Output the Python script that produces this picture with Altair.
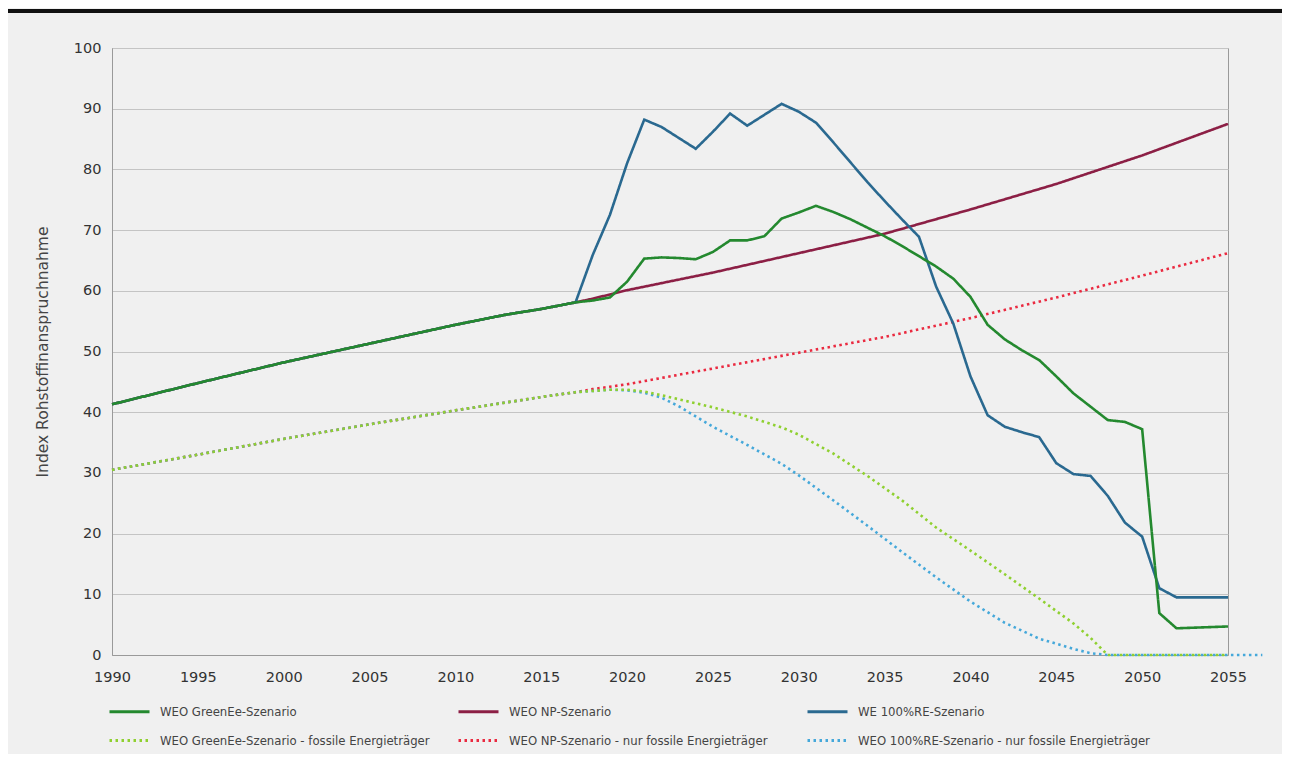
import altair as alt
import pandas as pd

# ---- series names ----
S_GREEN = "WEO GreenEe-Szenario"
S_NP = "WEO NP-Szenario"
S_RE = "WE 100%RE-Szenario"
S_GREEN_F = "WEO GreenEe-Szenario - fossile Energieträger"
S_NP_F = "WEO NP-Szenario - nur fossile Energieträger"
S_RE_F = "WEO 100%RE-Szenario - nur fossile Energieträger"

# ---- shared history (total and fossil) ----
hist_years = [1990, 1995, 2000, 2005, 2010, 2013, 2015, 2017]
hist_total = [41.3, 44.8, 48.2, 51.3, 54.4, 56.1, 57.0, 58.1]
hist_fossil_years = [1990, 1995, 2000, 2005, 2010, 2015, 2017]
hist_fossil = [30.5, 33.0, 35.6, 38.0, 40.3, 42.5, 43.3]

# ---- WEO NP-Szenario (total) ----
np_years = [2018, 2019, 2020, 2025, 2030, 2035, 2040, 2045, 2050, 2055]
np_values = [58.7, 59.4, 60.1, 63.0, 66.2, 69.4, 73.4, 77.6, 82.3, 87.5]

# ---- WEO GreenEe-Szenario (total) ----
green_years = list(range(2018, 2056))
green_values = [58.4, 58.9, 61.5, 65.3, 65.5, 65.4, 65.2, 66.4, 68.3, 68.3,
                69.0, 71.9, 72.9, 74.0, 73.0, 71.8, 70.4, 69.0, 67.4, 65.7,
                64.0, 62.0, 59.0, 54.4, 52.0, 50.2, 48.6, 45.9, 43.1, 40.9,
                38.7, 38.4, 37.2, 6.9, 4.4, 4.5, 4.6, 4.7]

# ---- WE 100%RE-Szenario (total) ----
re_years = list(range(2018, 2056))
re_values = [65.9, 72.5, 81.0, 88.2, 87.0, 85.2, 83.4, 86.2, 89.2, 87.2,
             89.0, 90.8, 89.5, 87.7, 84.5, 81.2, 77.9, 74.8, 71.8, 68.9,
             60.7, 54.6, 45.9, 39.5, 37.6, 36.7, 35.9, 31.6, 29.8, 29.5,
             26.2, 21.8, 19.5, 11.0, 9.5, 9.5, 9.5, 9.5]

# ---- fossil-only series ----
np_f_years = [2018, 2019, 2020, 2025, 2030, 2035, 2040, 2045, 2050, 2055]
np_f_values = [43.8, 44.2, 44.6, 47.2, 49.8, 52.4, 55.5, 58.9, 62.5, 66.2]

green_f_years = [2018, 2019, 2020, 2021, 2022, 2025, 2027, 2029, 2030, 2032,
                 2034, 2036, 2038, 2040, 2042, 2044, 2046, 2047, 2048, 2055]
green_f_values = [43.5, 43.7, 43.7, 43.4, 42.8, 40.8, 39.3, 37.5, 36.3, 33.2,
                  29.5, 25.5, 21.0, 17.2, 13.3, 9.3, 5.2, 2.8, 0.0, 0.0]

re_f_years = [2018, 2019, 2020, 2021, 2022, 2023, 2025, 2027, 2029, 2030,
              2032, 2034, 2036, 2038, 2040, 2042, 2044, 2046, 2047, 2048, 2057]
re_f_values = [43.5, 43.7, 43.6, 43.2, 42.4, 41.0, 37.6, 34.6, 31.5, 29.6,
               25.5, 21.3, 17.0, 12.8, 8.8, 5.3, 2.7, 1.0, 0.3, 0.0, 0.0]

x_ticks = list(range(1990, 2056, 5))
y_ticks = list(range(0, 101, 10))

series_order = [S_GREEN, S_NP, S_RE, S_GREEN_F, S_NP_F, S_RE_F]
series_colors = ["#24892f", "#8c1f45", "#2a6990", "#8fd030", "#ea2a40", "#45a8da"]
series_dash = [[1, 0], [1, 0], [1, 0], [2.5, 3.5], [2.5, 3.5], [2.5, 3.5]]


def rows(name, hy, hv, fy, fv):
    return [{"series": name, "year": y, "value": v}
            for y, v in list(zip(hy, hv)) + list(zip(fy, fv))]


records = []
records += rows(S_NP_F, hist_fossil_years, hist_fossil, np_f_years, np_f_values)
records += rows(S_RE_F, hist_fossil_years, hist_fossil, re_f_years, re_f_values)
records += rows(S_GREEN_F, hist_fossil_years, hist_fossil, green_f_years, green_f_values)
records += rows(S_NP, hist_years, hist_total, np_years, np_values)
records += rows(S_RE, hist_years, hist_total, re_years, re_values)
records += rows(S_GREEN, hist_years, hist_total, green_years, green_values)
df = pd.DataFrame(records)

FONT_AX = "DejaVu Sans"
FONT_LEG = "DejaVu Sans Condensed, Lato, sans-serif"

x_enc = alt.X(
    "year:Q",
    scale=alt.Scale(domain=[1990, 2055], nice=False, zero=False),
    axis=alt.Axis(values=x_ticks, format="d", title=None, grid=False, ticks=False,
                  labelPadding=15, labelFontSize=14.5, labelFont=FONT_AX,
                  labelColor="#333333", labelFlush=False, domainColor="#9a9a9a"),
)
y_enc = alt.Y(
    "value:Q",
    scale=alt.Scale(domain=[0, 100], nice=False),
    axis=alt.Axis(values=y_ticks, title="Index Rohstoffinanspruchnahme", ticks=False,
                  grid=True, gridColor="#c4c4c4", labelPadding=11,
                  labelFontSize=14.5, labelFont=FONT_AX, labelColor="#333333",
                  domainColor="#9a9a9a", titleFont=FONT_AX, titleFontSize=15.5,
                  titleFontWeight="normal", titleColor="#444444",
                  titleX=-70, titleY=303.5, titleAngle=-90,
                  titleAlign="center", titleBaseline="middle"),
)

legend_cfg = dict(title=None, orient="none", direction="horizontal",
                  legendX=-4, legendY=642, columns=3, gridAlign="all",
                  columnPadding=0, rowPadding=-14,
                  symbolType="stroke", symbolSize=1600, symbolStrokeWidth=3,
                  labelFont=FONT_LEG, labelFontSize=13, labelColor="#444444",
                  labelOffset=9, labelLimit=400)

color_enc = alt.Color(
    "series:N",
    scale=alt.Scale(domain=series_order, range=series_colors),
    legend=alt.Legend(**legend_cfg),
)
dash_enc = alt.StrokeDash(
    "series:N",
    scale=alt.Scale(domain=series_order, range=series_dash),
    legend=alt.Legend(**legend_cfg),
)

layers = []
for s in [S_NP_F, S_RE_F, S_GREEN_F, S_NP, S_RE, S_GREEN]:
    layers.append(
        alt.Chart(df)
        .transform_filter(alt.datum.series == s)
        .mark_line(strokeWidth=2.6, strokeCap="butt")
        .encode(x=x_enc, y=y_enc, color=color_enc, strokeDash=dash_enc,
                order="year:Q")
    )

top_rule = alt.Chart(df).mark_rule(color="#111111", strokeWidth=3).encode(
    x=alt.value(-104), x2=alt.value(1170), y=alt.value(-37)
)

chart = (
    alt.layer(*layers, top_rule)
    .properties(width=1116, height=607,
                autosize=alt.AutoSizeParams(type="none"),
                padding={"left": 104, "top": 40, "right": 54, "bottom": 99})
    .configure(background="#f0f0f0")
    .configure_view(stroke="#9a9a9a", strokeWidth=1)
)

chart.save("out.html", embed_options={"renderer": "svg", "actions": False})
